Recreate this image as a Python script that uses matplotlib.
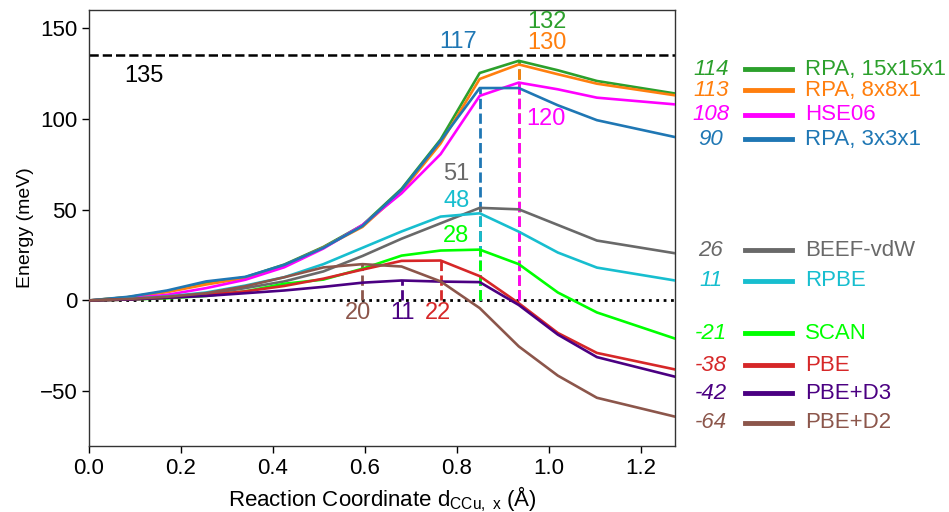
import matplotlib
matplotlib.use("Agg")
import matplotlib.pyplot as plt
from matplotlib.lines import Line2D

plt.rcParams["font.family"] = ["Liberation Sans", "DejaVu Sans"]
plt.rcParams["mathtext.fontset"] = "custom"
plt.rcParams["mathtext.rm"] = "Liberation Sans"
plt.rcParams["mathtext.it"] = "Liberation Sans:italic"

# reaction coordinate (Angstrom) shared by every functional
coord = [0, 0.085, 0.17, 0.255, 0.34, 0.425, 0.51, 0.595, 0.68, 0.765,
         0.85, 0.935, 1.02, 1.105, 1.275]

# energies along the path (meV)
rpa15 = [0, 1.8, 5.0, 9.5, 12.8, 19.8, 29.5, 41.5, 61.5, 88.7, 125.3, 132, 126.8, 120.9, 114]
rpa8 = [0, 1.8, 4.6, 8.8, 12.3, 19.3, 29.2, 40.5, 60.0, 86.5, 122.0, 130, 124.6, 119.4, 113]
hse06 = [0, 1.1, 3.1, 6.8, 11.4, 18.3, 28.6, 41.6, 59.0, 80.6, 112.7, 120, 116.3, 111.7, 108]
rpa3 = [0, 2.0, 5.5, 10.5, 13.0, 19.6, 29.0, 41.0, 61.0, 88.0, 117, 117, 107.5, 99.3, 90]
beef = [0, 0.8, 2.0, 3.5, 6.8, 10.5, 16.0, 24.5, 34.0, 42.5, 51, 50.2, 41.6, 33.0, 26]
rpbe = [0, 0.8, 2.2, 4.4, 8.2, 12.8, 20.0, 29.0, 38.0, 46.2, 48, 37.9, 26.4, 18.1, 11]
scan = [0, 0.5, 1.2, 2.5, 5.0, 9.2, 11.5, 17.5, 24.7, 27.5, 28, 20.0, 4.4, -6.6, -21]
pbe = [0, 0.5, 1.5, 3.0, 5.0, 8.0, 12.0, 17.0, 21.8, 22, 13.4, -1.5, -17.9, -28.9, -38]
pbe_d3 = [0, 0.5, 1.5, 2.5, 4.0, 5.5, 7.5, 9.8, 11, 10.4, 10.1, -2.5, -18.8, -31.2, -42]
pbe_d2 = [0, 0.8, 2.0, 4.0, 7.8, 12.8, 18.2, 20, 18.7, 10.5, -4.2, -25.3, -41.4, -53.6, -64]

reference_barrier = 135

# name, energies, colour, label position of the barrier value, legend row (axes y)
series = [
    ("RPA, 15x15x1", rpa15, "#2ca02c", (0.996, 153.3), 0.864),
    ("RPA, 8x8x1", rpa8, "#ff7f0e", (0.996, 141.9), 0.816),
    ("HSE06", hse06, "#ff00ff", (0.995, 99.8), 0.759),
    ("RPA, 3x3x1", rpa3, "#1f77b4", (0.804, 142.3), 0.703),
    ("BEEF-vdW", beef, "#696969", (0.799, 69.6), 0.448),
    ("RPBE", rpbe, "#17becf", (0.799, 54.6), 0.378),
    ("SCAN", scan, "#00ff00", (0.799, 35.5), 0.258),
    ("PBE", pbe, "#d62728", (0.760, -7.1), 0.185),
    ("PBE+D3", pbe_d3, "#4b0082", (0.681, -7.1), 0.120),
    ("PBE+D2", pbe_d2, "#8c564b", (0.586, -7.1), 0.053),
]

fig = plt.figure(figsize=(9.49, 5.12), dpi=100)
ax = fig.add_axes([0.0938, 0.1295, 0.6175, 0.8510])

ax.axhline(0, color="black", ls=":", lw=2, zorder=1)
ax.axhline(reference_barrier, color="black", ls="--", lw=1.8, zorder=1)
ax.text(0.12, 123.5, f"{reference_barrier}", fontsize=17, ha="center", va="center")

for name, energy, color, (tx, ty), row in series:
    ax.plot(coord, energy, color=color, lw=1.9, zorder=3)

    # barrier: highest point along the path
    peak = max(energy)
    x_peak = coord[energy.index(peak)]
    ax.plot([x_peak, x_peak], [0, peak], color=color, ls="--", lw=2, zorder=2)
    ax.text(tx, ty, f"{peak:g}", color=color, fontsize=17, ha="center", va="center")

    # final-state energy and name to the right of the axes
    ax.text(1.061, row, f"{energy[-1]:g}", color=color, fontsize=16, style="italic",
            ha="center", va="center", transform=ax.transAxes)
    ax.add_line(Line2D([1.119, 1.200], [row, row], color=color, lw=3.5,
                       transform=ax.transAxes, clip_on=False))
    ax.text(1.222, row, name, color=color, fontsize=16, ha="left", va="center",
            transform=ax.transAxes)

ax.set_xlim(0, 1.275)
ax.set_ylim(-80, 160)
ax.set_xticks([0.0, 0.2, 0.4, 0.6, 0.8, 1.0, 1.2])
ax.set_yticks([-50, 0, 50, 100, 150])
ax.xaxis.set_major_formatter(matplotlib.ticker.FormatStrFormatter("%.1f"))
ax.tick_params(labelsize=16, length=5, width=1, direction="out")
for spine in ax.spines.values():
    spine.set_color("#333333")
    spine.set_linewidth(1)

ax.set_ylabel("Energy (meV)", fontsize=14)
ax.set_xlabel(r"Reaction Coordinate d$_{\mathrm{CCu,\ x}}$ (Å)", fontsize=16)

fig.savefig("out.png", dpi=100)
